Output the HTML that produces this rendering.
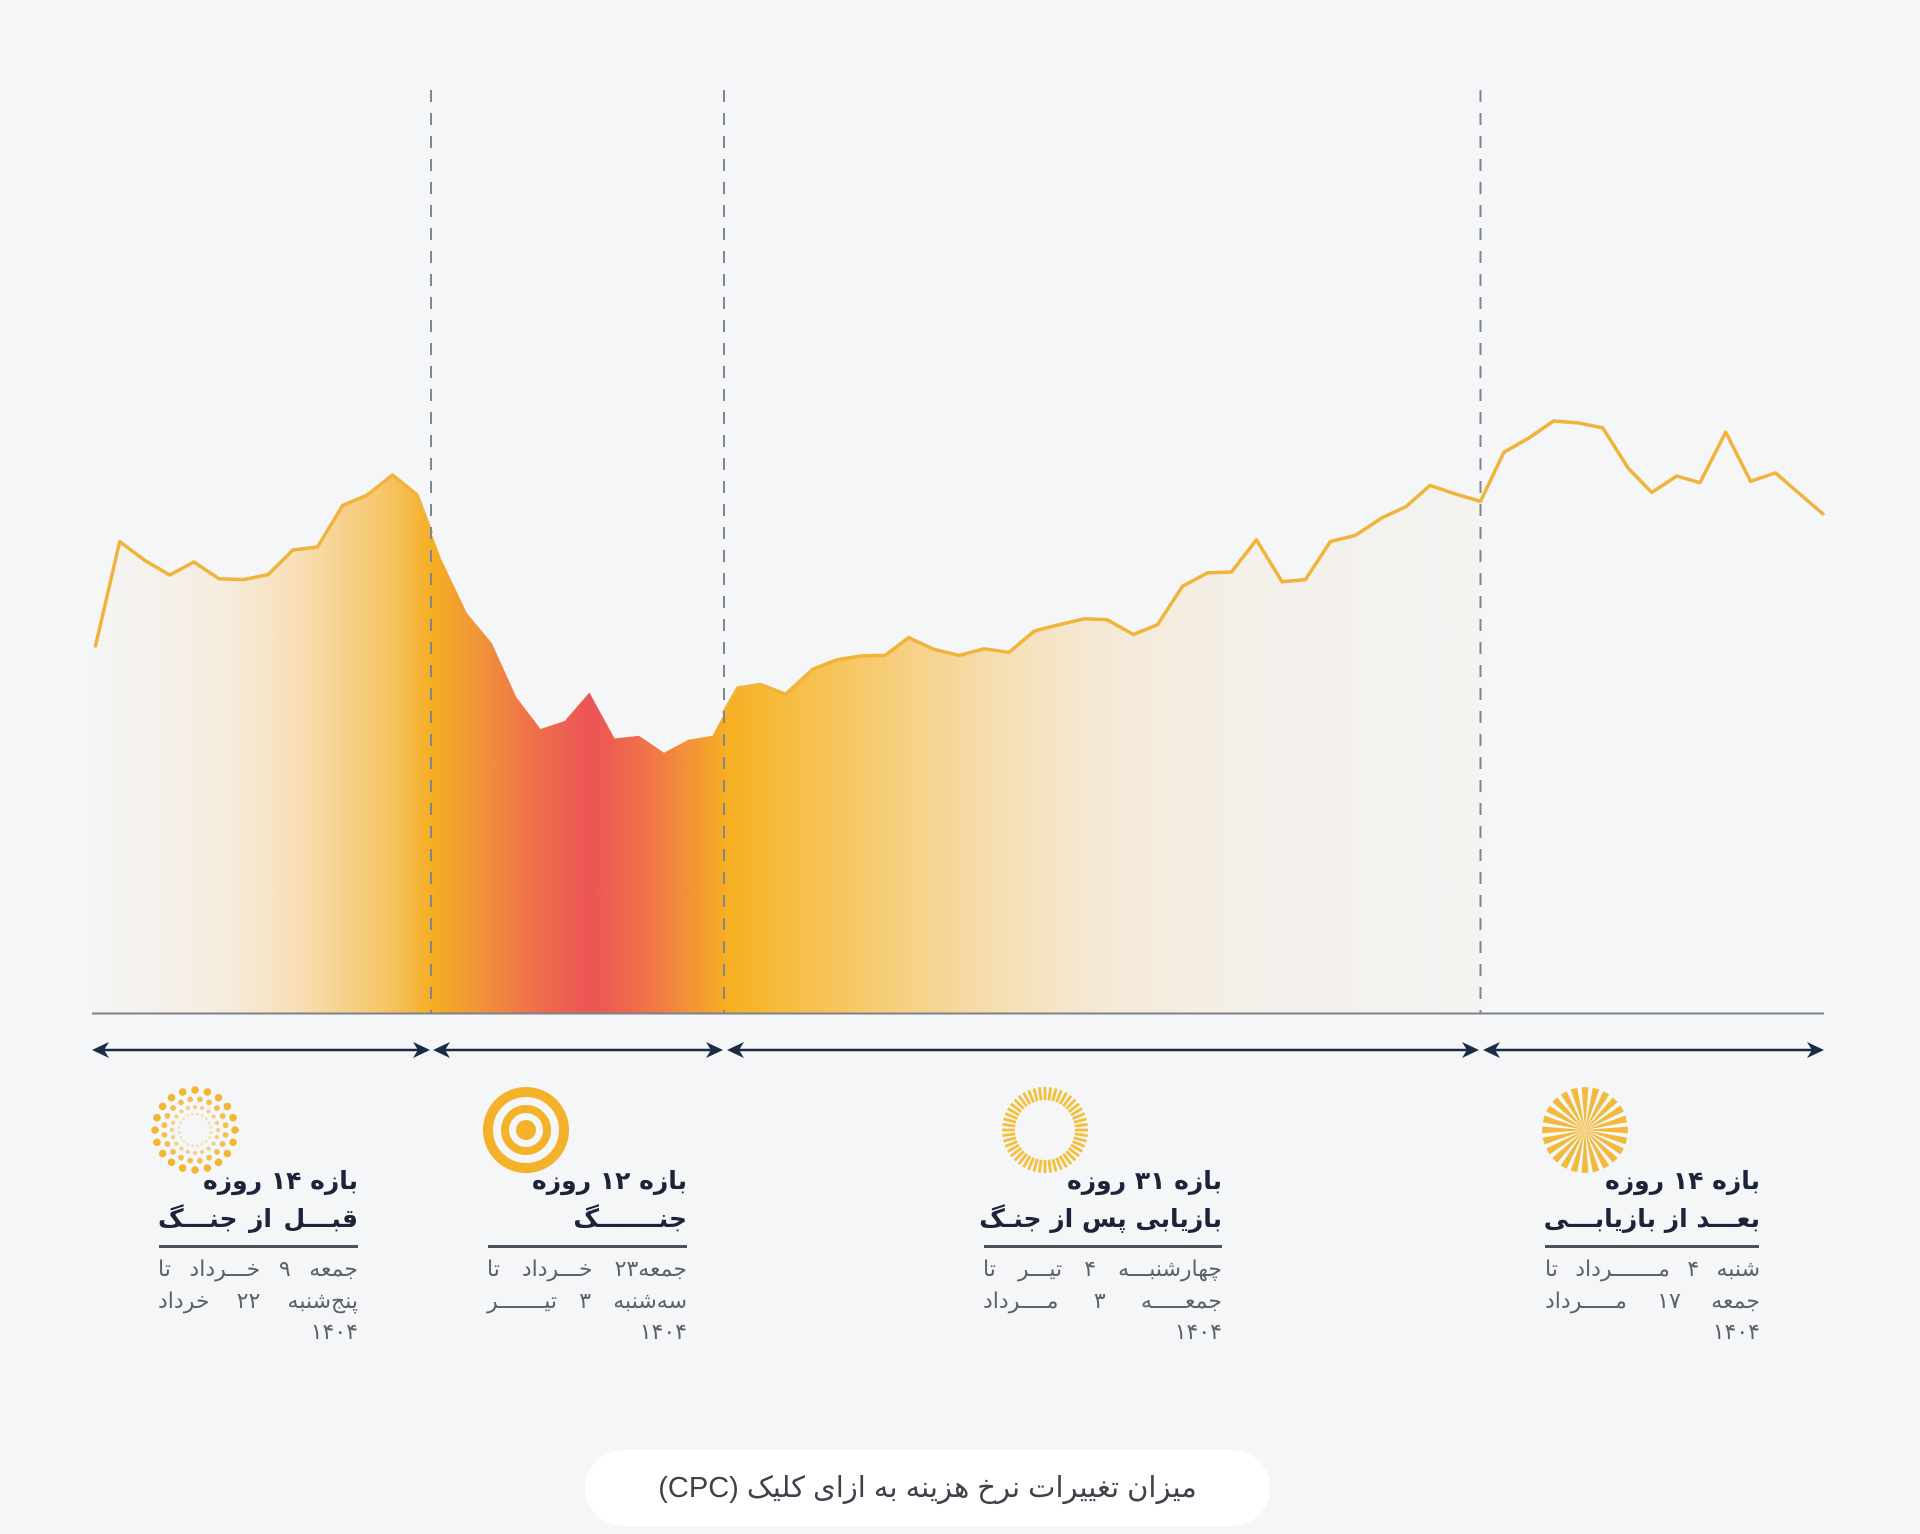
<!DOCTYPE html>
<html>
<head>
<meta charset="utf-8">
<style>
  html,body{margin:0;padding:0;}
  body{width:1920px;height:1534px;background:#f4f6f8;position:relative;overflow:hidden;
       font-family:"Liberation Sans","DejaVu Sans",sans-serif;}
  svg{position:absolute;left:0;top:0;}
  .t{position:absolute;direction:rtl;white-space:nowrap;color:#1b2438;font-weight:bold;
     font-family:"DejaVu Sans",sans-serif;font-size:25px;line-height:38px;}
  .d{position:absolute;direction:rtl;white-space:nowrap;color:#5d6168;
     font-family:"DejaVu Sans",sans-serif;font-size:22px;line-height:32px;}
  .j{text-align:justify;text-align-last:justify;}
  .r{text-align:right;}
  .sep{position:absolute;height:3px;background:#4a505c;}
  .pill{position:absolute;left:585px;top:1450px;width:685px;height:76px;border-radius:38px;background:#ffffff;
        text-align:center;line-height:76px;font-size:29px;color:#3d424b;direction:rtl;
        font-family:"Liberation Sans","DejaVu Sans",sans-serif;}
</style>
</head>
<body>
<svg width="1920" height="1534" viewBox="0 0 1920 1534" xmlns="http://www.w3.org/2000/svg">
  <defs>
    <linearGradient id="fg" gradientUnits="userSpaceOnUse" x1="92" y1="0" x2="1480" y2="0">
      <stop offset="0" stop-color="#f5f5f4"/>
      <stop offset="0.042" stop-color="#f5f1ec"/>
      <stop offset="0.099" stop-color="#f6ecdd"/>
      <stop offset="0.15" stop-color="#f7deb3"/>
      <stop offset="0.193" stop-color="#f6cd7e"/>
      <stop offset="0.222" stop-color="#f5bf55"/>
      <stop offset="0.245" stop-color="#f5ae22"/>
      <stop offset="0.28" stop-color="#f19339"/>
      <stop offset="0.323" stop-color="#ee6c4c"/>
      <stop offset="0.359" stop-color="#ec5456"/>
      <stop offset="0.395" stop-color="#ef6e4a"/>
      <stop offset="0.431" stop-color="#f29437"/>
      <stop offset="0.458" stop-color="#f6b021"/>
      <stop offset="0.503" stop-color="#f7bd42"/>
      <stop offset="0.582" stop-color="#f6cf80"/>
      <stop offset="0.654" stop-color="#f5dfb4"/>
      <stop offset="0.726" stop-color="#f5e9d5"/>
      <stop offset="0.834" stop-color="#f4f0ea"/>
      <stop offset="1" stop-color="#f4f3f1"/>
    </linearGradient>
  </defs>

  <!-- area fill -->
  <path fill="url(#fg)" d="M95.5,646 L119.7,541.6 L145.4,560.8 L169.7,575 L193.9,562 L219,578.7 L243.8,579.6 L268,574.6 L292.8,550 L317.5,547 L342.7,505.4 L366.9,495.2 L392.6,475 L416.9,494.7 L441,558.6 L466.8,613 L492,643.4 L516.2,697 L540.5,729 L564.7,721 L589.4,692.5 L614.6,738.5 L638.9,735.8 L664,752.8 L688.3,739.8 L712.5,735.8 L737.8,688 L760.7,684.5 L785.6,694.3 L812.8,669.3 L836.2,660 L861,655.9 L885.2,655.4 L908.6,637.6 L933.5,649.2 L959.1,655.4 L984,648.8 L1009,652.3 L1034.6,630.9 L1059.5,624.6 L1084.4,618.8 L1107,619.7 L1133.5,634.5 L1157.6,624.6 L1182.5,586.3 L1207.4,572.9 L1231.5,572 L1256.4,539.8 L1282.1,581.8 L1305.4,579.6 L1330.4,541.6 L1355.3,535.4 L1382.5,517.5 L1405.8,506.8 L1430,485.4 L1454.9,493.8 L1480.5,501.4 L1480.5,1013 L95.5,1013 Z"/>

  <!-- line strokes -->
  <path fill="none" stroke="#f0b43c" stroke-width="3.5" stroke-linejoin="round" stroke-linecap="round"
        d="M95.5,646 L119.7,541.6 L145.4,560.8 L169.7,575 L193.9,562 L219,578.7 L243.8,579.6 L268,574.6 L292.8,550 L317.5,547 L342.7,505.4 L366.9,495.2 L392.6,475 L416.9,494.7 L431,532"/>
  <path fill="none" stroke="#f0b43c" stroke-width="3.5" stroke-linejoin="round" stroke-linecap="round"
        d="M724,712 L737.8,688 L760.7,684.5 L785.6,694.3 L812.8,669.3 L836.2,660 L861,655.9 L885.2,655.4 L908.6,637.6 L933.5,649.2 L959.1,655.4 L984,648.8 L1009,652.3 L1034.6,630.9 L1059.5,624.6 L1084.4,618.8 L1107,619.7 L1133.5,634.5 L1157.6,624.6 L1182.5,586.3 L1207.4,572.9 L1231.5,572 L1256.4,539.8 L1282.1,581.8 L1305.4,579.6 L1330.4,541.6 L1355.3,535.4 L1382.5,517.5 L1405.8,506.8 L1430,485.4 L1454.9,493.8 L1480.5,501.4 L1503.9,452.3 L1528.8,438 L1553.7,421 L1577.8,422.9 L1602.7,427.8 L1628.4,468.4 L1651.8,492.5 L1676.7,476 L1700,482.7 L1725.7,432.2 L1750.6,481.3 L1775.5,472.9 L1799.6,493.8 L1823,513.9"/>

  <!-- dashed separators -->
  <g stroke="#80858e" stroke-width="2" stroke-dasharray="12 11">
    <line x1="431" y1="90" x2="431" y2="1013"/>
    <line x1="724" y1="90" x2="724" y2="1013"/>
    <line x1="1480.5" y1="90" x2="1480.5" y2="1013"/>
  </g>

  <!-- baseline -->
  <line x1="92" y1="1013.5" x2="1824" y2="1013.5" stroke="#7d828b" stroke-width="2"/>

  <!-- arrows -->
  <g stroke="#1b2b44" stroke-width="2.5">
    <line x1="96" y1="1050" x2="426" y2="1050"/>
    <line x1="437" y1="1050" x2="719" y2="1050"/>
    <line x1="731" y1="1050" x2="1475" y2="1050"/>
    <line x1="1487" y1="1050" x2="1819" y2="1050"/>
  </g>
  <g fill="#1b2b44">
    <!-- left-pointing heads: tip at x -->
    <polygon points="92,1050 109,1042 104,1050 109,1058"/>
    <polygon points="433,1050 450,1042 445,1050 450,1058"/>
    <polygon points="727,1050 744,1042 739,1050 744,1058"/>
    <polygon points="1483,1050 1500,1042 1495,1050 1500,1058"/>
    <!-- right-pointing heads -->
    <polygon points="430,1050 413,1042 418,1050 413,1058"/>
    <polygon points="723,1050 706,1042 711,1050 706,1058"/>
    <polygon points="1479,1050 1462,1042 1467,1050 1462,1058"/>
    <polygon points="1824,1050 1807,1042 1812,1050 1807,1058"/>
  </g>

  <!-- icon 1 : dotted sunburst -->
  <g id="icon1" transform="translate(195,1130)">
    <g fill="#f2b632">
      <circle cx="40" cy="0" r="3.8"/><circle cx="38.04" cy="12.36" r="3.8"/><circle cx="32.36" cy="23.51" r="3.8"/><circle cx="23.51" cy="32.36" r="3.8"/><circle cx="12.36" cy="38.04" r="3.8"/><circle cx="0" cy="40" r="3.8"/><circle cx="-12.36" cy="38.04" r="3.8"/><circle cx="-23.51" cy="32.36" r="3.8"/><circle cx="-32.36" cy="23.51" r="3.8"/><circle cx="-38.04" cy="12.36" r="3.8"/><circle cx="-40" cy="0" r="3.8"/><circle cx="-38.04" cy="-12.36" r="3.8"/><circle cx="-32.36" cy="-23.51" r="3.8"/><circle cx="-23.51" cy="-32.36" r="3.8"/><circle cx="-12.36" cy="-38.04" r="3.8"/><circle cx="0" cy="-40" r="3.8"/><circle cx="12.36" cy="-38.04" r="3.8"/><circle cx="23.51" cy="-32.36" r="3.8"/><circle cx="32.36" cy="-23.51" r="3.8"/><circle cx="38.04" cy="-12.36" r="3.8"/>
    </g>
    <g fill="#f3bf4e">
      <circle cx="30.62" cy="4.85" r="2.9"/><circle cx="27.62" cy="14.07" r="2.9"/><circle cx="21.92" cy="21.92" r="2.9"/><circle cx="14.07" cy="27.62" r="2.9"/><circle cx="4.85" cy="30.62" r="2.9"/><circle cx="-4.85" cy="30.62" r="2.9"/><circle cx="-14.07" cy="27.62" r="2.9"/><circle cx="-21.92" cy="21.92" r="2.9"/><circle cx="-27.62" cy="14.07" r="2.9"/><circle cx="-30.62" cy="4.85" r="2.9"/><circle cx="-30.62" cy="-4.85" r="2.9"/><circle cx="-27.62" cy="-14.07" r="2.9"/><circle cx="-21.92" cy="-21.92" r="2.9"/><circle cx="-14.07" cy="-27.62" r="2.9"/><circle cx="-4.85" cy="-30.62" r="2.9"/><circle cx="4.85" cy="-30.62" r="2.9"/><circle cx="14.07" cy="-27.62" r="2.9"/><circle cx="21.92" cy="-21.92" r="2.9"/><circle cx="27.62" cy="-14.07" r="2.9"/><circle cx="30.62" cy="-4.85" r="2.9"/>
    </g>
    <g fill="#f4cf7f">
      <circle cx="23" cy="0" r="2.1"/><circle cx="21.87" cy="7.11" r="2.1"/><circle cx="18.61" cy="13.52" r="2.1"/><circle cx="13.52" cy="18.61" r="2.1"/><circle cx="7.11" cy="21.87" r="2.1"/><circle cx="0" cy="23" r="2.1"/><circle cx="-7.11" cy="21.87" r="2.1"/><circle cx="-13.52" cy="18.61" r="2.1"/><circle cx="-18.61" cy="13.52" r="2.1"/><circle cx="-21.87" cy="7.11" r="2.1"/><circle cx="-23" cy="0" r="2.1"/><circle cx="-21.87" cy="-7.11" r="2.1"/><circle cx="-18.61" cy="-13.52" r="2.1"/><circle cx="-13.52" cy="-18.61" r="2.1"/><circle cx="-7.11" cy="-21.87" r="2.1"/><circle cx="0" cy="-23" r="2.1"/><circle cx="7.11" cy="-21.87" r="2.1"/><circle cx="13.52" cy="-18.61" r="2.1"/><circle cx="18.61" cy="-13.52" r="2.1"/><circle cx="21.87" cy="-7.11" r="2.1"/>
    </g>
    <g fill="#f5dfae">
      <circle cx="15.8" cy="2.5" r="1.4"/><circle cx="14.25" cy="7.26" r="1.4"/><circle cx="11.31" cy="11.31" r="1.4"/><circle cx="7.26" cy="14.25" r="1.4"/><circle cx="2.5" cy="15.8" r="1.4"/><circle cx="-2.5" cy="15.8" r="1.4"/><circle cx="-7.26" cy="14.25" r="1.4"/><circle cx="-11.31" cy="11.31" r="1.4"/><circle cx="-14.25" cy="7.26" r="1.4"/><circle cx="-15.8" cy="2.5" r="1.4"/><circle cx="-15.8" cy="-2.5" r="1.4"/><circle cx="-14.25" cy="-7.26" r="1.4"/><circle cx="-11.31" cy="-11.31" r="1.4"/><circle cx="-7.26" cy="-14.25" r="1.4"/><circle cx="-2.5" cy="-15.8" r="1.4"/><circle cx="2.5" cy="-15.8" r="1.4"/><circle cx="7.26" cy="-14.25" r="1.4"/><circle cx="11.31" cy="-11.31" r="1.4"/><circle cx="14.25" cy="-7.26" r="1.4"/><circle cx="15.8" cy="-2.5" r="1.4"/>
    </g>
  </g>

  <!-- icon 2 : target -->
  <g transform="translate(526,1130)" fill="none" stroke="#f4b12a">
    <circle r="38" stroke-width="10"/>
    <circle r="21" stroke-width="8"/>
    <circle r="10" fill="#f4b12a" stroke="none"/>
  </g>

  <!-- icon 3 : tick ring -->
  <g transform="translate(1045,1130)" stroke="#f4bf3c" stroke-width="2.8">
    <g id="tk">
      <line x1="30" y1="0" x2="43" y2="0"/>
      <line x1="30" y1="0" x2="43" y2="0" transform="rotate(7.5)"/>
      <line x1="30" y1="0" x2="43" y2="0" transform="rotate(15)"/>
      <line x1="30" y1="0" x2="43" y2="0" transform="rotate(22.5)"/>
      <line x1="30" y1="0" x2="43" y2="0" transform="rotate(30)"/>
      <line x1="30" y1="0" x2="43" y2="0" transform="rotate(37.5)"/>
      <line x1="30" y1="0" x2="43" y2="0" transform="rotate(45)"/>
      <line x1="30" y1="0" x2="43" y2="0" transform="rotate(52.5)"/>
      <line x1="30" y1="0" x2="43" y2="0" transform="rotate(60)"/>
      <line x1="30" y1="0" x2="43" y2="0" transform="rotate(67.5)"/>
      <line x1="30" y1="0" x2="43" y2="0" transform="rotate(75)"/>
      <line x1="30" y1="0" x2="43" y2="0" transform="rotate(82.5)"/>
    </g>
    <use href="#tk" transform="rotate(90)"/>
    <use href="#tk" transform="rotate(180)"/>
    <use href="#tk" transform="rotate(270)"/>
  </g>

  <!-- icon 4 : wedge sunburst -->
  <g transform="translate(1585,1130)" fill="#f3b93a">
    <g id="wd">
      <polygon points="0,0 42.8,-3.4 42.8,3.4"/>
      <polygon points="0,0 42.8,-3.4 42.8,3.4" transform="rotate(15)"/>
      <polygon points="0,0 42.8,-3.4 42.8,3.4" transform="rotate(30)"/>
      <polygon points="0,0 42.8,-3.4 42.8,3.4" transform="rotate(45)"/>
      <polygon points="0,0 42.8,-3.4 42.8,3.4" transform="rotate(60)"/>
      <polygon points="0,0 42.8,-3.4 42.8,3.4" transform="rotate(75)"/>
    </g>
    <use href="#wd" transform="rotate(90)"/>
    <use href="#wd" transform="rotate(180)"/>
    <use href="#wd" transform="rotate(270)"/>
  </g>
</svg>

<!-- Block 1 -->
<div class="t r" style="left:158px;width:200px;top:1162px;">بازه ۱۴ روزه</div>
<div class="t j" style="left:158px;width:200px;top:1200px;">قبـــل از جنـــگ</div>
<div class="sep" style="left:159px;width:199px;top:1245px;"></div>
<div class="d j" style="left:158px;width:200px;top:1254px;">جمعه ۹ خـــرداد تا</div>
<div class="d j" style="left:158px;width:200px;top:1286px;">پنج‌شنبه ۲۲ خرداد</div>
<div class="d r" style="left:158px;width:200px;top:1317px;">۱۴۰۴</div>

<!-- Block 2 -->
<div class="t r" style="left:487px;width:200px;top:1162px;">بازه ۱۲ روزه</div>
<div class="t r" style="left:487px;width:200px;top:1200px;">جنـــــــگ</div>
<div class="sep" style="left:488px;width:199px;top:1245px;"></div>
<div class="d j" style="left:487px;width:200px;top:1254px;">جمعه۲۳ خـــرداد تا</div>
<div class="d j" style="left:487px;width:200px;top:1286px;">سه‌شنبه ۳ تیـــــــر</div>
<div class="d r" style="left:487px;width:200px;top:1317px;">۱۴۰۴</div>

<!-- Block 3 -->
<div class="t r" style="left:983px;width:239px;top:1162px;">بازه ۳۱ روزه</div>
<div class="t j" style="left:983px;width:239px;top:1200px;">بازیابی پس از جنـگ</div>
<div class="sep" style="left:984px;width:238px;top:1245px;"></div>
<div class="d j" style="left:983px;width:239px;top:1254px;">چهارشنبـــه ۴ تیـــر تا</div>
<div class="d j" style="left:983px;width:239px;top:1286px;">جمعـــــه ۳ مــــرداد</div>
<div class="d r" style="left:983px;width:239px;top:1317px;">۱۴۰۴</div>

<!-- Block 4 -->
<div class="t r" style="left:1545px;width:215px;top:1162px;">بازه ۱۴ روزه</div>
<div class="t j" style="left:1545px;width:215px;top:1200px;">بعـــد از بازیابـــی</div>
<div class="sep" style="left:1545px;width:214px;top:1245px;"></div>
<div class="d j" style="left:1545px;width:215px;top:1254px;">شنبه ۴ مـــــــرداد تا</div>
<div class="d j" style="left:1545px;width:215px;top:1286px;">جمعه ۱۷ مـــــرداد</div>
<div class="d r" style="left:1545px;width:215px;top:1317px;">۱۴۰۴</div>

<!-- caption pill -->
<div class="pill">میزان تغییرات نرخ هزینه به ازای کلیک (CPC)</div>
</body>
</html>
